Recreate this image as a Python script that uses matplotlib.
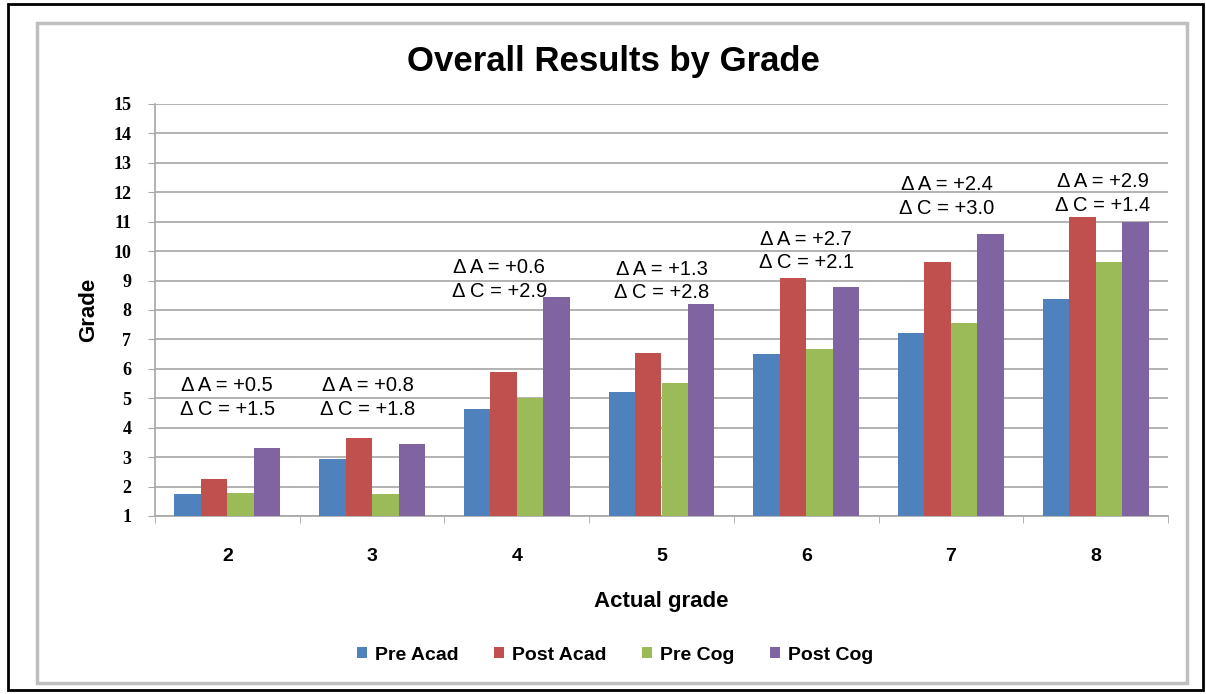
import matplotlib
matplotlib.use("Agg")
import matplotlib.pyplot as plt
import numpy as np
from matplotlib.patches import Rectangle

# data
grades = ["2", "3", "4", "5", "6", "7", "8"]
pre_acad = [1.74, 2.94, 4.64, 5.20, 6.49, 7.21, 8.37]
post_acad = [2.25, 3.66, 5.90, 6.54, 9.10, 9.62, 11.17]
pre_cog = [1.77, 1.74, 5.00, 5.51, 6.69, 7.55, 9.62]
post_cog = [3.30, 3.45, 8.43, 8.20, 8.79, 10.58, 11.00]
series_names = ["Pre Acad", "Post Acad", "Pre Cog", "Post Cog"]
delta_a = ["+0.5", "+0.8", "+0.6", "+1.3", "+2.7", "+2.4", "+2.9"]
delta_c = ["+1.5", "+1.8", "+2.9", "+2.8", "+2.1", "+3.0", "+1.4"]

# label placement (upper line height, x shift)
label_y = [5.42, 5.42, 9.43, 9.39, 10.41, 12.25, 12.35]
label_dx = [0.0, -0.03, -0.12, 0.0, 0.0, -0.03, 0.05]

colors = ["#4F81BD", "#C0504D", "#9BBB59", "#8064A2"]
grid_c = "#A6A6A6"

plt.rcParams['font.family'] = ['Liberation Sans', 'DejaVu Sans']

fig = plt.figure(figsize=(12.06, 6.94), dpi=100)
ax = fig.add_axes([155 / 1206, 1 - 516 / 694, (1168 - 155) / 1206, (516 - 104) / 694])

# frames around the chart
fig.patches.append(Rectangle((8 / 1206, 4 / 694), 1195 / 1206, 686 / 694,
                             transform=fig.transFigure, fill=False, ec="black", lw=2))
fig.patches.append(Rectangle((37 / 1206, 11 / 694), 1150 / 1206, 660 / 694,
                             transform=fig.transFigure, fill=False, ec="#BFBFBF", lw=2.5))

x = np.arange(len(grades))
w = 0.183
all_series = [pre_acad, post_acad, pre_cog, post_cog]
for k, vals in enumerate(all_series):
    ax.bar(x + (k - 1.5) * w, np.array(vals) - 1, width=w, bottom=1,
           color=colors[k], label=series_names[k], zorder=3)

for i in range(len(grades)):
    ax.text(x[i] + label_dx[i], label_y[i], "\u0394 A = " + delta_a[i],
            ha="center", va="center", fontsize=14.5, zorder=4)
    ax.text(x[i] + label_dx[i], label_y[i] - 0.8, "\u0394 C = " + delta_c[i],
            ha="center", va="center", fontsize=14.5, zorder=4)

ax.set_xlim(-0.5, len(grades) - 0.5)
ax.set_ylim(1, 15)
ax.set_yticks(range(1, 16))
ax.set_yticklabels([str(v) for v in range(1, 16)], fontsize=13,
                   fontweight="bold", family="Liberation Serif")
ax.yaxis.grid(True, color=grid_c, lw=1.2, zorder=0)
ax.set_xticks(x)
ax.set_xticklabels(grades, fontsize=14, fontweight="bold")
ax.set_xticks(np.arange(-0.5, len(grades)), minor=True)
ax.tick_params(axis="x", which="major", length=0, pad=23)
ax.tick_params(axis="x", which="minor", length=5, color=grid_c)
ax.tick_params(axis="y", length=5, color=grid_c, pad=12)

for s in ["top", "right"]:
    ax.spines[s].set_visible(False)
for s in ["left", "bottom"]:
    ax.spines[s].set_color(grid_c)
    ax.spines[s].set_linewidth(1.2)

ax.set_ylabel("Grade", fontsize=16, fontweight="bold", labelpad=10)
ax.set_xlabel("Actual grade", fontsize=16, fontweight="bold", labelpad=19)

fig.text(613 / 1206, 1 - 61 / 694, "Overall Results by Grade", ha="center", va="center",
         fontsize=25, fontweight="bold")

fig.legend(loc="center", bbox_to_anchor=(615 / 1206, 1 - 655 / 694), ncol=4,
           frameon=False, prop={"size": 14, "weight": "bold"}, handlelength=0.55,
           handleheight=0.55, handletextpad=0.4, columnspacing=1.8)

fig.savefig("out.png", dpi=100)
